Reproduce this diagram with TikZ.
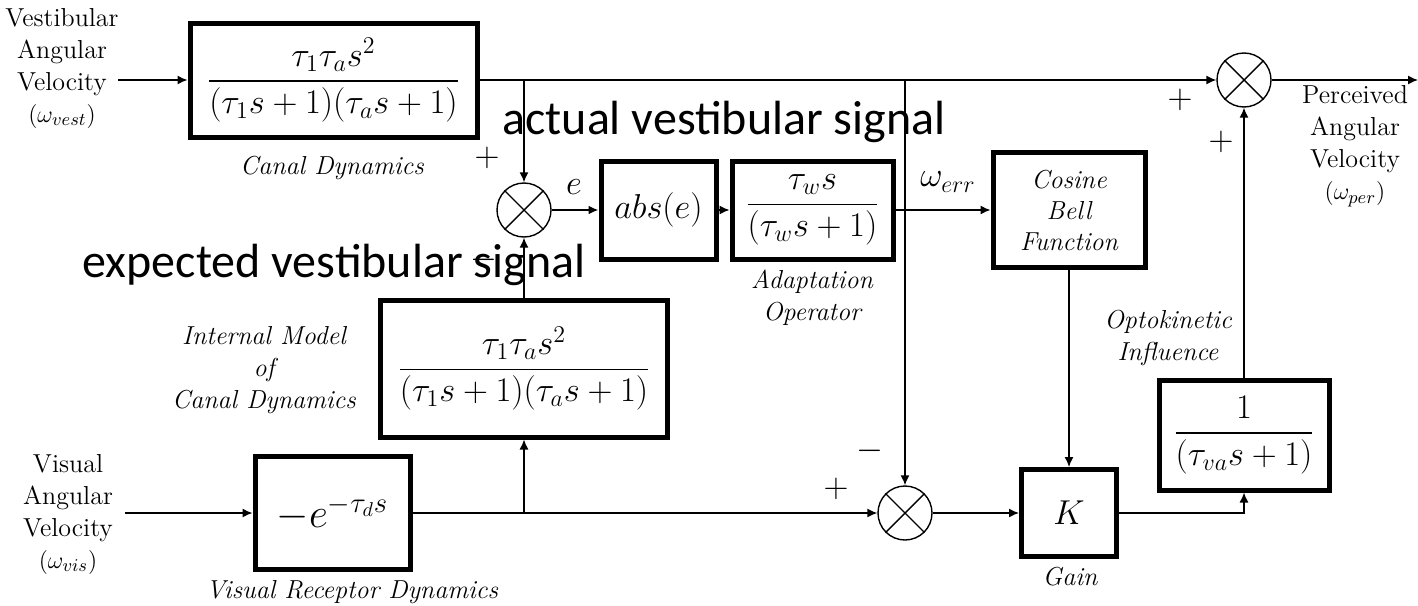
\documentclass[tikz,border=0pt]{standalone}
\usepackage{amsmath}
\usepackage{fontspec}
\newfontfamily\notefont{Carlito}
\usetikzlibrary{arrows.meta,positioning}

\begin{document}
\begin{tikzpicture}[x=0.5pt, y=-0.5pt, >={Latex[length=5pt,width=4.5pt]},
    every node/.style={font=\fontsize{13}{16}\selectfont},
    blk/.style={draw, line width=2.5pt, inner sep=0pt, font=\fontsize{17}{20}\selectfont},
    sumj/.style={draw, circle, line width=0.7pt, minimum size=27pt, inner sep=0pt},
    lbl/.style={align=center, font=\fontsize{13}{16}\selectfont\itshape},
    sgn/.style={font=\fontsize{17}{20}\selectfont},
    sig/.style={font=\fontsize{17}{20}\selectfont},
    note/.style={font=\notefont\fontsize{24}{28}\selectfont},
    line width=0.7pt]
    \useasboundingbox (0,0) rectangle (1418,605);

    % 前庭系の経路 (上段)
    \node[align=center] (vestIn) at (62,68) {Vestibular\\Angular\\Velocity\\$(\omega_{vest})$};
    \node[blk, minimum width=143.5pt, minimum height=57pt] (canal) at (333.5,80)
      {$\dfrac{\tau_1\tau_a s^2}{(\tau_1 s+1)(\tau_a s+1)}$};
    \node[lbl] (canalLbl) at (332,168) {Canal Dynamics};
    \node[sumj] (sumA) at (524,210) {};
    \node[blk, minimum width=57.5pt, minimum height=49pt, font=\fontsize{18}{21}\selectfont]
      (absE) at (658.5,210) {$abs(e)$};
    \node[blk, minimum width=80.5pt, minimum height=49pt] (adapt) at (812.5,210)
      {$\dfrac{\tau_w s}{(\tau_w s+1)}$};
    \node[lbl] (adaptLbl) at (812,298) {Adaptation\\Operator};
    \node[blk, minimum width=76pt, minimum height=57.5pt, align=center,
          font=\fontsize{13}{15.5}\selectfont\itshape] (cosBell) at (1069,210) {Cosine\\Bell\\Function};
    \node[sumj] (sumOut) at (1244,80) {};
    \node[align=center] (percOut) at (1355,146) {Perceived\\Angular\\Velocity\\$(\omega_{per})$};

    % 視覚系の経路 (下段)
    \node[align=center] (visIn) at (68,514) {Visual\\Angular\\Velocity\\$(\omega_{vis})$};
    \node[blk, minimum width=77.5pt, minimum height=56.5pt, font=\fontsize{20}{24}\selectfont]
      (visRec) at (332.5,513) {$-e^{-\tau_d s}$};
    \node[lbl] (visLbl) at (352,592) {Visual Receptor Dynamics};
    \node[blk, minimum width=143.5pt, minimum height=68.5pt] (intModel) at (524,368.5)
      {$\dfrac{\tau_1\tau_a s^2}{(\tau_1 s+1)(\tau_a s+1)}$};
    \node[lbl] (intLbl) at (264,370) {Internal Model\\of\\Canal Dynamics};
    \node[sumj] (sumB) at (905,513) {};
    \node[blk, minimum width=47.5pt, minimum height=43.5pt, font=\fontsize{19}{22}\selectfont]
      (gainK) at (1069,513) {$K$};
    \node[lbl] (gainLbl) at (1070,577) {Gain};
    \node[blk, minimum width=85pt, minimum height=55pt] (optoK) at (1244,435)
      {$\dfrac{1}{(\tau_{va}s+1)}$};
    \node[lbl] (optoLbl) at (1168,338) {Optokinetic\\Influence};

    % 加算点の×印
    \foreach \s in {sumA,sumOut,sumB}
      \draw (\s.north west) -- (\s.south east) (\s.north east) -- (\s.south west);

    % 信号線
    \coordinate (vin) at (118,80);
    \coordinate (visin) at (125,513);
    \coordinate (vout) at (1418,80);
    \coordinate (brA) at (sumA.north |- canal.east);
    \coordinate (brB) at (sumB.north |- canal.east);
    \coordinate (brC) at (intModel.south |- visRec.east);
    \draw[->] (vin) -- (canal.west);
    \draw[->] (canal.east) -- (sumOut.west);
    \draw[->] (brA) -- (sumA.north);
    \draw[->] (brB) -- (sumB.north);
    \draw[->, line width=1.1pt] (sumA.east) -- (absE.west);
    \draw[->] (absE.east) -- (adapt.west);
    \draw[->] (adapt.east) -- (cosBell.west);
    \draw[->] (cosBell.south) -- (gainK.north);
    \draw[->] (sumOut.east) -- (vout);
    \draw[->] (visin) -- (visRec.west);
    \draw[line width=1.1pt] (visRec.east) -- (brC);
    \draw[->] (brC) -- (sumB.west);
    \draw[->] (brC) -- (intModel.south);
    \draw[->] (intModel.north) -- (sumA.south);
    \draw[->] (sumB.east) -- (gainK.west);
    \draw[->] (gainK.east) -| (optoK.south);
    \draw[->] (optoK.north) -- (sumOut.south);

    % 信号名と符号
    \node[sig] (eLbl) at (574,187) {$e$};
    \node[sig] (errLbl) at (948,182) {$\omega_{err}$};
    \node[sgn] (pA) at (487,158) {$+$};
    \node[sgn] (mA) at (484,260) {$-$};
    \node[sgn] (pOutA) at (1180,100) {$+$};
    \node[sgn] (pOutB) at (1221,142) {$+$};
    \node[sgn] (pB) at (836,489) {$+$};
    \node[sgn] (mB) at (870,451) {$-$};

    % 注記
    \node[note] (actNote) at (724,122) {actual vestibular signal};
    \node[note] (expNote) at (334,265) {expected vestibular signal};
\end{tikzpicture}
\end{document}
